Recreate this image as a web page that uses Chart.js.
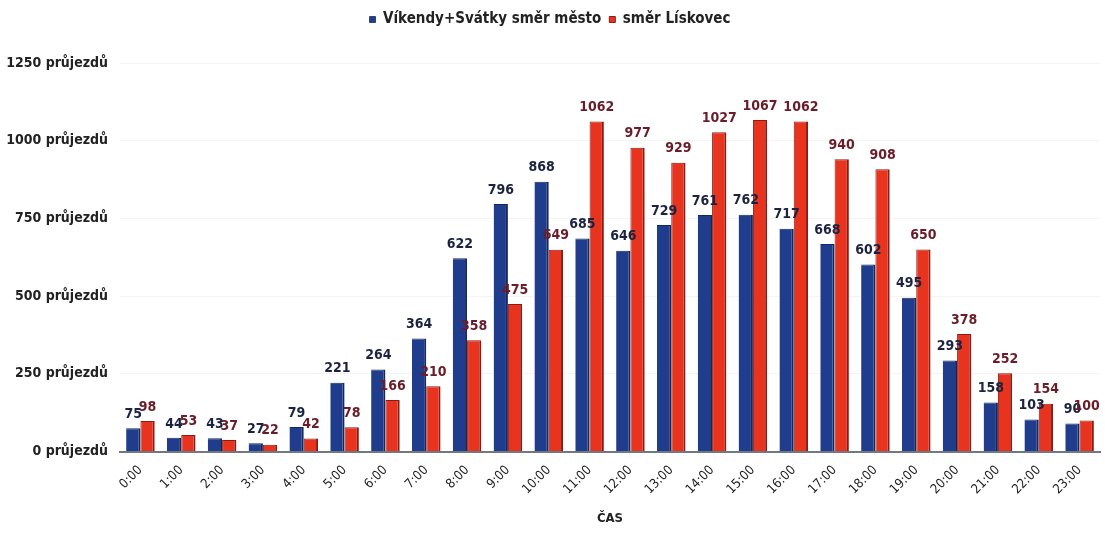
<!DOCTYPE html>
<html>
<head>
<meta charset="utf-8">
<script src="https://cdn.jsdelivr.net/npm/chart.js@4/dist/chart.umd.min.js"></script>
<style>
  html, body { margin: 0; padding: 0; background: #fff; }
  #wrap { width: 1105px; height: 534px; }
</style>
</head>
<body>
<div id="wrap"><canvas id="trafficChart" width="1105" height="534"></canvas></div>
<script>
// hours of the day
const hours = ['0:00','1:00','2:00','3:00','4:00','5:00','6:00','7:00','8:00','9:00','10:00','11:00',
  '12:00','13:00','14:00','15:00','16:00','17:00','18:00','19:00','20:00','21:00','22:00','23:00'];

// weekends + holidays, direction city
const toCity = [75, 44, 43, 27, 79, 221, 264, 364, 622, 796, 868, 685,
  646, 729, 761, 762, 717, 668, 602, 495, 293, 158, 103, 90];

// direction Lískovec
const toLiskovec = [98, 53, 37, 22, 42, 78, 166, 210, 358, 475, 649, 1062,
  977, 929, 1027, 1067, 1062, 940, 908, 650, 378, 252, 154, 100];

const yTicks = [0, 250, 500, 750, 1000, 1250];

const labelFont = '"Liberation Sans Narrow", "DejaVu Sans Condensed", "Roboto", sans-serif';

// draws the value above each bar
const valueLabels = {
  id: 'valueLabels',
  afterDatasetsDraw(chart) {
    const ctx = chart.ctx;
    ctx.save();
    ctx.font = 'bold 14px ' + labelFont;
    ctx.textAlign = 'center';
    ctx.textBaseline = 'bottom';
    chart.data.datasets.forEach((ds, i) => {
      const meta = chart.getDatasetMeta(i);
      ctx.fillStyle = i === 0 ? '#1b2340' : '#6a1c28';
      meta.data.forEach((bar, j) => {
        ctx.fillText(ds.data[j], bar.x, bar.y - 7);
      });
    });
    ctx.restore();
  }
};

// extra space between legend and plot
const legendGap = {
  id: 'legendGap',
  beforeInit(chart) {
    const fit = chart.legend.fit;
    chart.legend.fit = function () {
      fit.bind(chart.legend)();
      this.height += 26;
    };
  }
};

const ctx = document.getElementById('trafficChart').getContext('2d');

new Chart(ctx, {
  type: 'bar',
  data: {
    labels: hours,
    datasets: [
      {
        label: 'Víkendy+Svátky směr město',
        data: toCity,
        backgroundColor: '#1f3d8c',
        borderColor: '#13285c',
        borderWidth: { top: 1, right: 2, left: 0, bottom: 0 },
        borderSkipped: false,
        categoryPercentage: 0.7,
        barPercentage: 1.0
      },
      {
        label: 'směr Lískovec',
        data: toLiskovec,
        backgroundColor: '#e8341f',
        borderColor: '#8c1b15',
        borderWidth: { top: 1, right: 2, left: 1, bottom: 0 },
        borderSkipped: false,
        categoryPercentage: 0.7,
        barPercentage: 1.0
      }
    ]
  },
  options: {
    responsive: false,
    animation: false,
    layout: { padding: { top: 4, right: 5, bottom: 8, left: 0 } },
    plugins: {
      legend: {
        position: 'top',
        labels: {
          boxWidth: 6,
          boxHeight: 6,
          padding: 8,
          color: '#222',
          font: { family: labelFont, size: 15, weight: 'bold' }
        }
      },
      tooltip: { enabled: false }
    },
    scales: {
      x: {
        grid: { display: false },
        border: { display: true, color: '#6f7a80', width: 2 },
        ticks: {
          color: '#222',
          minRotation: 45,
          maxRotation: 45,
          font: { family: labelFont, size: 13 }
        },
        title: {
          display: true,
          text: 'ČAS',
          color: '#222',
          font: { family: labelFont, size: 13, weight: 'bold' },
          padding: { top: 10, bottom: 0 }
        }
      },
      y: {
        min: 0,
        max: 1250,
        afterBuildTicks: (scale) => { scale.ticks = yTicks.map(v => ({ value: v })); },
        afterFit: (scale) => { scale.width = 120; },
        grid: { color: '#f4f4f4', drawTicks: false },
        border: { display: false },
        ticks: {
          padding: 12,
          color: '#222',
          font: { family: labelFont, size: 14, weight: 'bold' },
          callback: (v) => v + ' průjezdů'
        }
      }
    }
  },
  plugins: [valueLabels, legendGap]
});
</script>
</body>
</html>
